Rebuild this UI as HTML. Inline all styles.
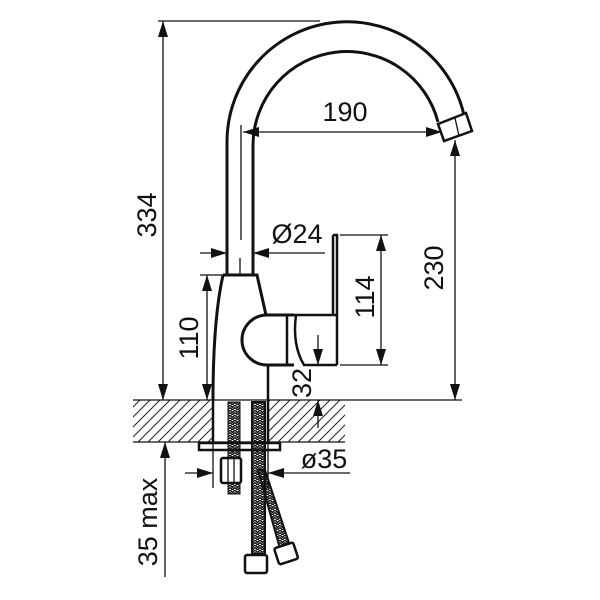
<!DOCTYPE html>
<html><head><style>body{margin:0;background:#fff}svg{display:block}text{font-family:"Liberation Sans",sans-serif;font-size:27px;fill:#111;font-weight:normal}</style></head><body>
<svg width="600" height="600" viewBox="0 0 600 600" xmlns="http://www.w3.org/2000/svg">
<defs>
<pattern id="h" width="10" height="10" patternUnits="userSpaceOnUse"><path d="M-2,12 L12,-2 M8,12 L12,8 M-2,2 L2,-2" stroke="#222" stroke-width="1"/></pattern>
<marker id="a" viewBox="0 0 16 10" refX="16" refY="5" markerWidth="16" markerHeight="10" markerUnits="userSpaceOnUse" orient="auto-start-reverse"><path d="M0,0 L16,5 L0,10z" fill="#111"/></marker>
<pattern id="br" width="5" height="5" patternUnits="userSpaceOnUse"><path d="M0,0 L2.5,2.5 L5,0 M0,2.5 L2.5,5 L5,2.5" stroke="#111" fill="none" stroke-width="1.5"/></pattern>
</defs>
<g stroke="#111" fill="none" stroke-width="1.3">
<rect x="133" y="400" width="80" height="42" fill="url(#h)" stroke="none"/>
<rect x="268" y="400" width="77" height="42" fill="url(#h)" stroke="none"/>
<line x1="133" y1="400" x2="462" y2="400"/>
<line x1="133" y1="442" x2="345" y2="442"/>
<path d="M227,275 L227,141 A120,120 0 0 1 465,120" stroke-width="3"/>
<path d="M253,275 L253,145 A94,94 0 0 1 438,122" stroke-width="3"/>
<path d="M438,124 L466,113 L472,131 L444,141 Z" stroke-width="2.5" fill="#fff"/>
<line x1="455" y1="118" x2="459" y2="136"/>
<line x1="241" y1="125" x2="241" y2="240"/>
<line x1="240" y1="258" x2="240" y2="275"/>
<path d="M223,275 L257,275 L266,315" stroke-width="3"/>
<path d="M223,275 Q213,320 213,400" stroke-width="3"/>
<line x1="213" y1="400" x2="213" y2="442" stroke-width="2.5"/>
<line x1="268" y1="365" x2="268" y2="442" stroke-width="2.5"/>
<path d="M266,315 L294,315 M268,365 L294,365" stroke-width="3"/>
<path d="M266,315 A25,25 0 0 0 268,365" stroke-width="3"/>
<line x1="287" y1="315" x2="287" y2="365" stroke-width="2.5"/>
<path d="M294,315 L337,315 M296,315 Q292,345 304,365 L337,365" stroke-width="2.5"/>
<path d="M333,235 L337,235 L337,365 M333,235 L333,315" stroke-width="2.5"/>
<rect x="199" y="443" width="81" height="7" stroke-width="2.5"/>
<rect x="228" y="402" width="12" height="92" fill="url(#br)" stroke-width="1"/>
<rect x="252" y="402" width="13" height="152" fill="url(#br)" stroke-width="2"/>
<path d="M258,470 L265,470 L292,552 L282,556 Z" fill="url(#br)" stroke-width="2"/>
<rect x="221" y="458" width="20" height="25" rx="2" fill="#fff" stroke-width="2.5"/>
<line x1="228" y1="458" x2="228" y2="483"/><line x1="234" y1="458" x2="234" y2="483"/>
<rect x="245" y="555" width="22" height="18" rx="2" fill="#fff" stroke-width="2.5"/>
<rect x="276" y="545" width="20" height="17" rx="2" fill="#fff" stroke-width="2.5" transform="rotate(-18 286 553)"/>
<line x1="158" y1="21" x2="320" y2="21"/>
<line x1="163" y1="21" x2="163" y2="400" marker-start="url(#a)" marker-end="url(#a)"/>
<line x1="200" y1="275" x2="225" y2="275"/>
<line x1="207" y1="275" x2="207" y2="400" marker-start="url(#a)" marker-end="url(#a)"/>
<line x1="243" y1="132" x2="442" y2="132" marker-start="url(#a)" marker-end="url(#a)"/>
<line x1="455" y1="140" x2="455" y2="400" marker-start="url(#a)" marker-end="url(#a)"/>
<line x1="200" y1="253" x2="227" y2="253" marker-end="url(#a)"/>
<line x1="325" y1="253" x2="253" y2="253" marker-end="url(#a)"/>
<line x1="340" y1="235" x2="388" y2="235"/><line x1="340" y1="365" x2="388" y2="365"/>
<line x1="381" y1="235" x2="381" y2="365" marker-start="url(#a)" marker-end="url(#a)"/>
<line x1="318" y1="335" x2="318" y2="365" marker-end="url(#a)"/>
<line x1="318" y1="428" x2="318" y2="400" marker-end="url(#a)"/>
<line x1="313" y1="365" x2="318" y2="365"/>
<line x1="165" y1="442" x2="165" y2="577" marker-start="url(#a)"/>
<line x1="213" y1="442" x2="213" y2="488"/>
<line x1="268" y1="442" x2="268" y2="488"/>
<line x1="185" y1="473" x2="213" y2="473" marker-end="url(#a)"/>
<line x1="350" y1="473" x2="268" y2="473" marker-end="url(#a)"/>
</g>
<text x="345" y="121" text-anchor="middle">190</text>
<text x="297" y="243" text-anchor="middle">Ø24</text>
<text x="324" y="468" text-anchor="middle">ø35</text>
<text transform="translate(156,215) rotate(-90)" text-anchor="middle">334</text>
<text transform="translate(198,338) rotate(-90)" text-anchor="middle">110</text>
<text transform="translate(443,268) rotate(-90)" text-anchor="middle">230</text>
<text transform="translate(374,297) rotate(-90)" text-anchor="middle">114</text>
<text transform="translate(311,383) rotate(-90)" text-anchor="middle">32</text>
<text transform="translate(157,522) rotate(-90)" text-anchor="middle">35 max</text>
</svg>
</body></html>
